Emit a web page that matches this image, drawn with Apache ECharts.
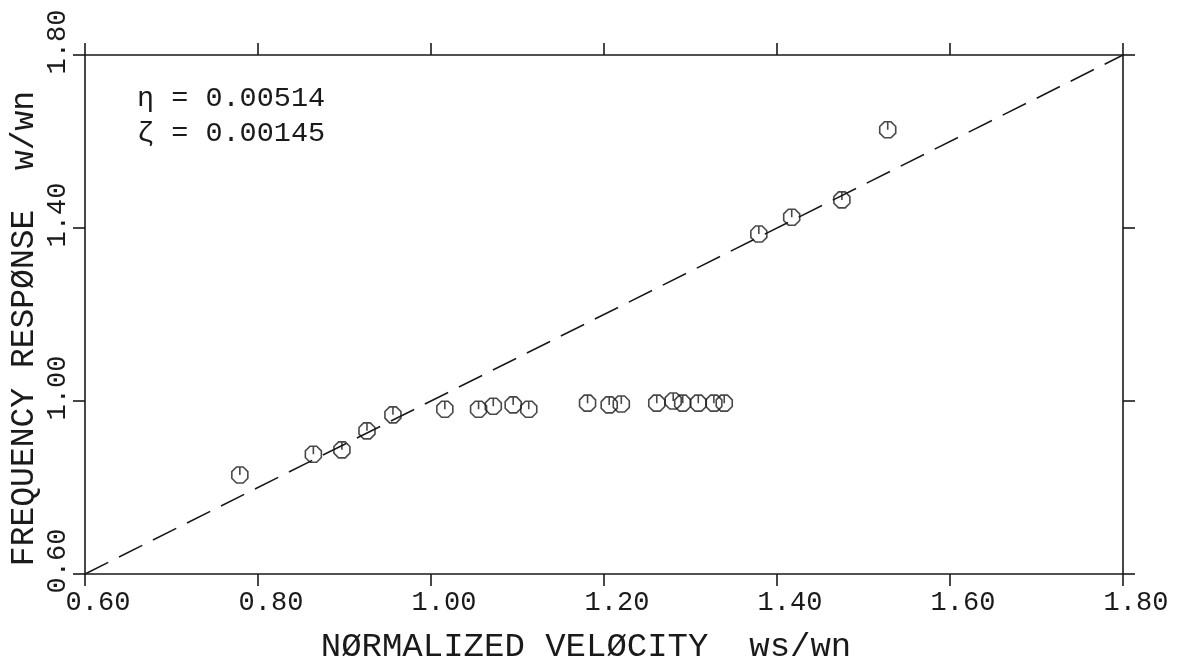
<!DOCTYPE html>
<html>
<head>
<meta charset="utf-8">
<script src="https://cdn.jsdelivr.net/npm/echarts@6/dist/echarts.min.js"></script>
<style>
html,body{margin:0;padding:0;background:#fff;}
#c{width:1185px;height:658px;}
</style>
</head>
<body>
<div id="c"></div>
<script>
// measured data: normalized velocity (ws/wn) vs frequency response (w/wn)
const velocity = [0.779, 0.864, 0.897, 0.926, 0.956, 1.016, 1.055, 1.072, 1.095, 1.113,
                  1.181, 1.206, 1.220, 1.261, 1.280, 1.291, 1.309, 1.327, 1.339,
                  1.379, 1.417, 1.475, 1.528];
const response = [0.829, 0.877, 0.887, 0.931, 0.968, 0.981, 0.981, 0.988, 0.991, 0.981,
                  0.995, 0.991, 0.993, 0.995, 1.000, 0.995, 0.995, 0.995, 0.995,
                  1.386, 1.425, 1.465, 1.627];
// reference line w/wn = ws/wn
const refLineX = [0.6, 1.8];
const refLineY = [0.6, 1.8];
const annotationLines = ['η = 0.00514', 'ζ = 0.00145'];
const xTitle = 'NØRMALIZED VELØCITY  ws/wn';
const yTitle = 'FREQUENCY RESPØNSE  w/wn';

const FONT = 'Liberation Mono';
const INK = '#1a1a1a';

const chart = echarts.init(document.getElementById('c'));
const symbolPath = 'path://M19.24,13.83 L13.83,19.24 L6.17,19.24 L0.76,13.83 L0.76,6.17 L6.17,0.76 L13.83,0.76 L19.24,6.17 Z M10,0.76 L10,10';

const axisCommon = {
  type: 'value', min: 0.6, max: 1.8,
  axisLine: {show: true, lineStyle: {color: INK, width: 1.6}},
  axisTick: {show: true, length: 12, lineStyle: {color: INK, width: 1.6}},
  splitLine: {show: false}
};

chart.setOption({
  animation: false,
  backgroundColor: '#fff',
  grid: {left: 85, right: 62, top: 55, bottom: 84, containLabel: false, outerBoundsMode: 'none'},
  xAxis: [
    Object.assign({}, axisCommon, {
      position: 'bottom', interval: 0.2,
      axisLabel: {show: true, color: INK, fontFamily: FONT, fontSize: 27, margin: 15,
        padding: [0, 0, 0, 26],
        formatter: v => v.toFixed(2)},
      name: xTitle, nameLocation: 'middle', nameGap: 56, nameMoveOverlap: false,
      nameTextStyle: {color: INK, fontFamily: FONT, fontSize: 34, padding: [0, 36, 0, 0]}
    }),
    Object.assign({}, axisCommon, {
      position: 'top', interval: 0.2, axisLabel: {show: false}
    })
  ],
  yAxis: [
    Object.assign({}, axisCommon, {
      position: 'left', interval: 0.4,
      axisLabel: {show: true, rotate: 90, color: INK, fontFamily: FONT, fontSize: 27, margin: 14,
        padding: [0, 0, 0, 26],
        formatter: v => v.toFixed(2)},
      name: yTitle, nameLocation: 'middle', nameGap: 44, nameMoveOverlap: false,
      nameTextStyle: {color: INK, fontFamily: FONT, fontSize: 33, padding: [0, 28, 0, 0]}
    }),
    Object.assign({}, axisCommon, {
      position: 'right', interval: 0.4, axisLabel: {show: false}
    })
  ],
  graphic: annotationLines.map((t, i) => ({
    type: 'text', left: 137, top: 84 + i * 35,
    style: {text: t, fill: INK, font: '28.5px "' + FONT + '"'}
  })),
  series: [
    {
      type: 'line', xAxisIndex: 0, yAxisIndex: 0,
      data: refLineX.map((x, i) => [x, refLineY[i]]),
      symbol: 'none', silent: true, z: 1,
      lineStyle: {color: INK, width: 1.6, type: [26, 12]}
    },
    {
      type: 'scatter', xAxisIndex: 0, yAxisIndex: 0,
      data: velocity.map((x, i) => [x, response[i]]),
      symbol: symbolPath, symbolSize: 16, z: 3,
      itemStyle: {color: 'rgba(0,0,0,0)', borderColor: INK, borderWidth: 1.6}
    }
  ]
});
</script>
</body>
</html>
